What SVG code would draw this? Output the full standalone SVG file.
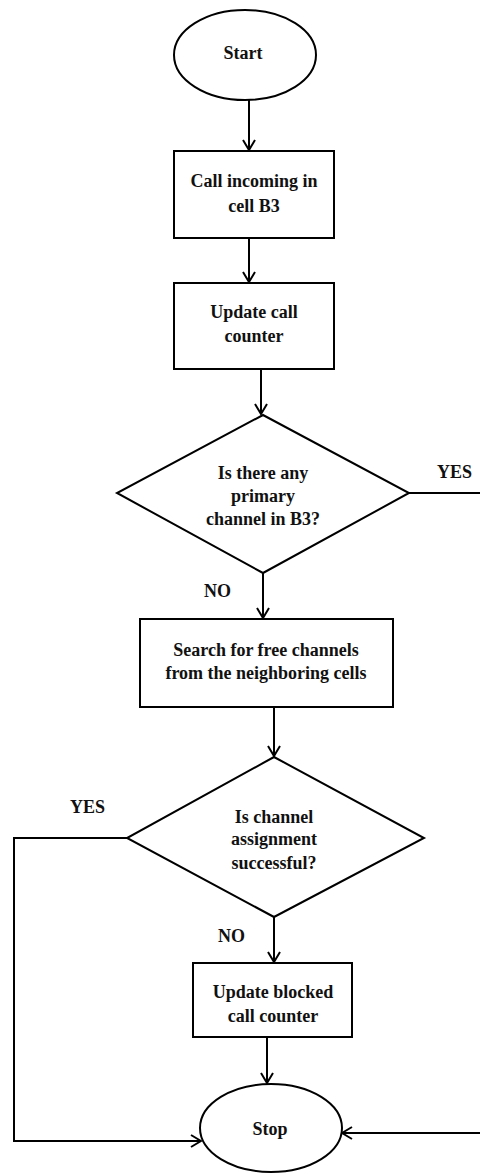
<svg xmlns="http://www.w3.org/2000/svg" width="480" height="1175" viewBox="0 0 480 1175">
<style>
.s{fill:#fff;stroke:#000;stroke-width:2}
.c{fill:none;stroke:#000;stroke-width:2}
text{font-family:"Liberation Serif","Times New Roman",serif;font-weight:bold;font-size:18px;fill:#111;text-anchor:middle}
.l{text-anchor:start}
</style>
<defs>
<marker id="ah" viewBox="0 0 12 14" refX="11" refY="7" markerWidth="12" markerHeight="14" markerUnits="userSpaceOnUse" orient="auto">
<path d="M1,1 L11,7 L1,13" fill="none" stroke="#000" stroke-width="2"/>
</marker>
</defs>
<rect width="480" height="1175" fill="#fff"/>
<g id="connectors">
<line class="c" x1="249" y1="100" x2="249" y2="150" marker-end="url(#ah)"/>
<line class="c" x1="249" y1="238" x2="249" y2="282" marker-end="url(#ah)"/>
<line class="c" x1="261" y1="369" x2="261" y2="414" marker-end="url(#ah)"/>
<line class="c" x1="263" y1="573" x2="263" y2="618" marker-end="url(#ah)"/>
<line class="c" x1="274" y1="707" x2="274" y2="756" marker-end="url(#ah)"/>
<line class="c" x1="274" y1="917" x2="274" y2="962" marker-end="url(#ah)"/>
<line class="c" x1="267" y1="1037" x2="267" y2="1083" marker-end="url(#ah)"/>
<polyline class="c" points="127,838 14,838 14,1141 201,1141" marker-end="url(#ah)"/>
<polyline class="c" points="409,493 490,493 490,1133 342,1133" marker-end="url(#ah)"/>
<text class="l" x="437" y="478">YES</text>
<text class="l" x="204" y="597">NO</text>
<text class="l" x="70" y="813">YES</text>
<text class="l" x="218" y="942">NO</text>
</g>
<g id="start">
<ellipse class="s" cx="245" cy="55" rx="71" ry="45"/>
<text x="243" y="59">Start</text>
</g>
<g id="call-incoming">
<rect class="s" x="174" y="151" width="160" height="87"/>
<text x="254" y="187">Call incoming in</text>
<text x="254" y="212">cell B3</text>
</g>
<g id="update-call">
<rect class="s" x="174" y="283" width="160" height="86"/>
<text x="254" y="318">Update call</text>
<text x="254" y="342">counter</text>
</g>
<g id="primary-decision">
<polygon class="s" points="263,415 409,493 263,573 117,493"/>
<text x="263" y="479">Is there any</text>
<text x="263" y="502">primary</text>
<text x="263" y="525">channel in B3?</text>
</g>
<g id="search">
<rect class="s" x="140" y="619" width="253" height="88"/>
<text x="266" y="656">Search for free channels</text>
<text x="266" y="679">from the neighboring cells</text>
</g>
<g id="assign-decision">
<polygon class="s" points="274,757 424,838 274,917 127,838"/>
<text x="274" y="823">Is channel</text>
<text x="274" y="845">assignment</text>
<text x="274" y="869">successful?</text>
</g>
<g id="update-blocked">
<rect class="s" x="193" y="963" width="159" height="74"/>
<text x="273" y="998">Update blocked</text>
<text x="273" y="1022">call counter</text>
</g>
<g id="stop">
<ellipse class="s" cx="271" cy="1128" rx="71" ry="44"/>
<text x="270" y="1135">Stop</text>
</g>
</svg>
